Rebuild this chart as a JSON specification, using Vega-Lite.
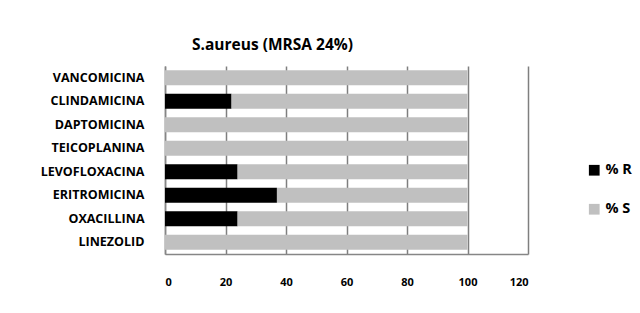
{
  "$schema": "https://vega.github.io/schema/vega-lite/v6.json",
  "autosize": {"type": "none"},
  "width": 363,
  "height": 188,
  "padding": {"left": 165, "top": 66, "right": 112, "bottom": 59},
  "background": "white",
  "title": {
    "text": "S.aureus (MRSA 24%)",
    "font": "Open Sans",
    "fontSize": 15.5,
    "fontWeight": "bold",
    "color": "#000000",
    "anchor": "middle",
    "frame": "group",
    "offset": 13,
    "dx": -74
  },
  "data": {
    "values": [
      {"drug": "VANCOMICINA", "serie": "% R", "value": 0},
      {"drug": "VANCOMICINA", "serie": "% S", "value": 100},
      {"drug": "CLINDAMICINA", "serie": "% R", "value": 22},
      {"drug": "CLINDAMICINA", "serie": "% S", "value": 78},
      {"drug": "DAPTOMICINA", "serie": "% R", "value": 0},
      {"drug": "DAPTOMICINA", "serie": "% S", "value": 100},
      {"drug": "TEICOPLANINA", "serie": "% R", "value": 0},
      {"drug": "TEICOPLANINA", "serie": "% S", "value": 100},
      {"drug": "LEVOFLOXACINA", "serie": "% R", "value": 24},
      {"drug": "LEVOFLOXACINA", "serie": "% S", "value": 76},
      {"drug": "ERITROMICINA", "serie": "% R", "value": 37},
      {"drug": "ERITROMICINA", "serie": "% S", "value": 63},
      {"drug": "OXACILLINA", "serie": "% R", "value": 24},
      {"drug": "OXACILLINA", "serie": "% S", "value": 76},
      {"drug": "LINEZOLID", "serie": "% R", "value": 0},
      {"drug": "LINEZOLID", "serie": "% S", "value": 100}
    ]
  },
  "mark": {"type": "bar"},
  "encoding": {
    "y": {
      "field": "drug",
      "type": "nominal",
      "sort": ["VANCOMICINA", "CLINDAMICINA", "DAPTOMICINA", "TEICOPLANINA", "LEVOFLOXACINA", "ERITROMICINA", "OXACILLINA", "LINEZOLID"],
      "scale": {"paddingInner": 0.36, "paddingOuter": 0.18},
      "axis": {
        "title": null,
        "ticks": false,
        "labelFont": "Open Sans",
        "labelFontSize": 12.5,
        "labelFontWeight": "bold",
        "labelColor": "#000000",
        "labelPadding": 21,
        "domainColor": "#868686",
        "domainWidth": 1.5,
        "grid": false
      }
    },
    "x": {
      "field": "value",
      "type": "quantitative",
      "stack": "zero",
      "scale": {"domain": [0, 120], "nice": false},
      "axis": {
        "title": null,
        "values": [0, 20, 40, 60, 80, 100, 120],
        "ticks": false,
        "labelFont": "Open Sans",
        "labelFontSize": 11,
        "labelFontWeight": "bold",
        "labelColor": "#000000",
        "labelPadding": 22,
        "domainColor": "#868686",
        "domainWidth": 1.5,
        "grid": true,
        "gridColor": "#7f7f7f",
        "gridOpacity": 1,
        "gridWidth": 1.5
      }
    },
    "color": {
      "field": "serie",
      "type": "nominal",
      "scale": {"domain": ["% R", "% S"], "range": ["#000000", "#c0c0c0"]},
      "legend": {
        "title": null,
        "orient": "none",
        "legendX": 422,
        "legendY": 97,
        "symbolType": "square",
        "symbolSize": 115,
        "symbolStrokeWidth": 0,
        "labelFont": "Open Sans",
        "labelFontSize": 14.5,
        "labelFontWeight": "bold",
        "labelColor": "#000000",
        "rowPadding": 24,
        "labelOffset": 4
      }
    },
    "order": {"field": "serie", "sort": "ascending"}
  },
  "config": {
    "view": {"stroke": null}
  }
}
